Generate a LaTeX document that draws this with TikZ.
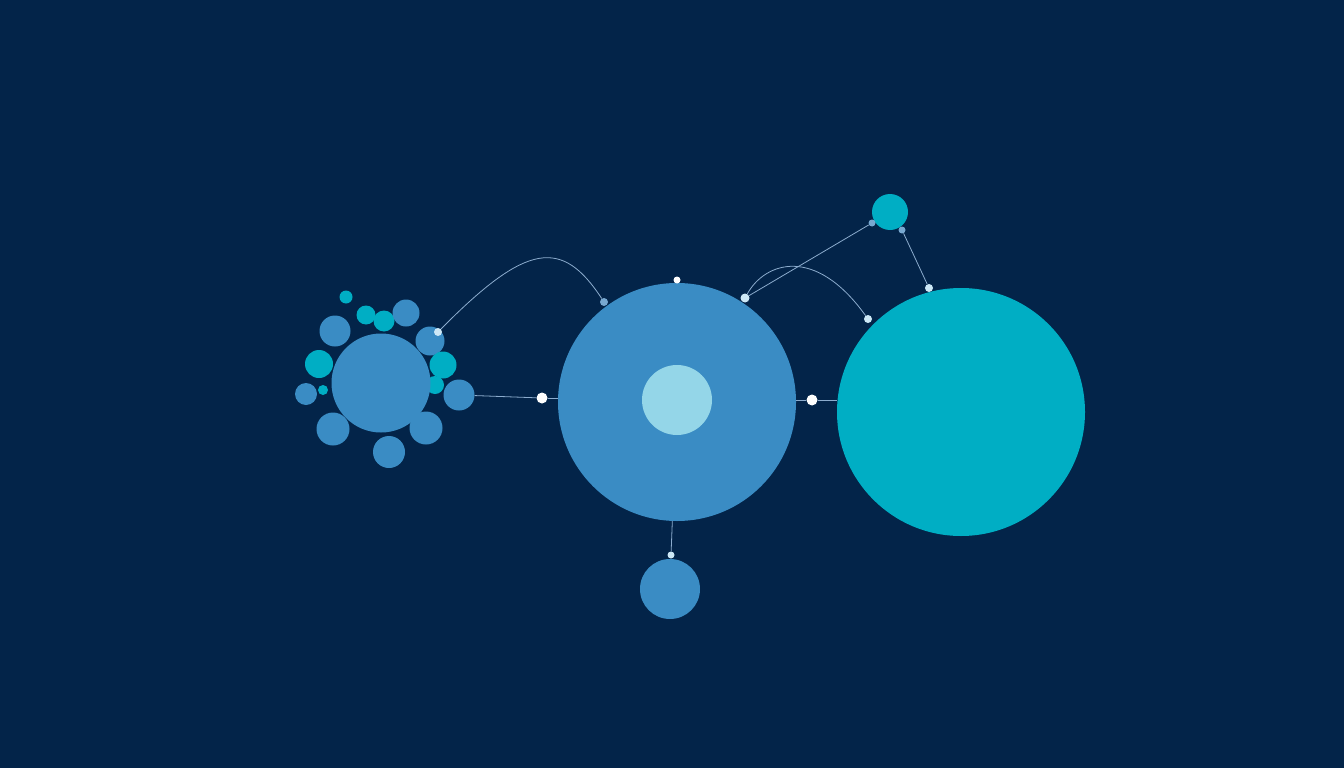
\documentclass[tikz,border=0pt]{standalone}
\usepackage{tikz}
\usetikzlibrary{positioning}

\definecolor{hintergrund}{RGB}{3,36,73}
\definecolor{blau}{RGB}{58,140,196}
\definecolor{tuerkis}{RGB}{0,174,196}
\definecolor{hellblau}{RGB}{148,214,232}
\definecolor{liniefarbe}{RGB}{140,172,206}
\definecolor{punkthell}{RGB}{205,232,246}
\definecolor{punktmatt}{RGB}{120,168,208}

\tikzset{
  kreis/.style={circle, inner sep=0pt, draw=none},
  punkt/.style={circle, inner sep=0pt, minimum size=#1},
  punkt/.default=7pt,
  linie/.style={liniefarbe, line width=0.8pt}
}

\begin{document}
\begin{tikzpicture}[x=1pt,y=-1pt]
\fill[hintergrund] (0,0) rectangle (1344,768);
\useasboundingbox (0,0) rectangle (1344,768);

% Satelliten um den linken Kreis
\foreach \n/\x/\y/\dm/\farbe in {1/346/297/13/tuerkis, 2/335/331/31/blau, 3/366/315/19/tuerkis,
  4/384/321/21/tuerkis, 5/406/313/27/blau, 6/430/341/29/blau, 7/319/364/28/tuerkis,
  8/443/365/27/tuerkis, 9/435/385/18/tuerkis, 10/306/394/22/blau, 11/323/390/10/tuerkis,
  12/459/395/31/blau, 13/333/429/33/blau, 14/426/428/33/blau, 15/389/452/32/blau}
  \node[kreis, fill=\farbe, minimum size=\dm pt] (s\n) at (\x,\y) {};

% Grosse Kreise
\node[kreis, fill=blau, minimum size=99pt] (links) at (381,383) {};
\node[kreis, fill=blau, minimum size=238pt] (mitte) at (677,402) {};
\node[kreis, fill=hellblau, minimum size=70pt] (kern) at (677,400) {};
\node[kreis, fill=tuerkis, minimum size=248pt] (rechts) at (961,412) {};
\node[kreis, fill=tuerkis, minimum size=36pt] (oben) at (890,212) {};
\node[kreis, fill=blau, minimum size=60pt] (unten) at (670,589) {};

% Punkte
\node[punkt=8pt, fill=punkthell] (pa) at (438,332) {};
\node[punkt=11pt, fill=white] (pb) at (542,398) {};
\node[punkt=8pt, fill=punktmatt] (pc) at (604,302) {};
\node[punkt=7pt, fill=white] (pd) at (677,280) {};
\node[punkt=9pt, fill=punkthell] (pe) at (745,298) {};
\node[punkt=11pt, fill=white] (pf) at (812,400) {};
\node[punkt=7pt, fill=punktmatt] (pg) at (872,223) {};
\node[punkt=7pt, fill=punktmatt] (ph) at (902,230) {};
\node[punkt=8pt, fill=punkthell] (pi) at (868,319) {};
\node[punkt=8pt, fill=punkthell] (pj) at (929,288) {};
\node[punkt=7pt, fill=punkthell] (pk) at (671,555) {};

% Verbindungen
\draw[linie] (pa) .. controls (527,242) and (562,238) .. (pc);
\draw[linie] (pe) .. controls (765,262) and (815,245) .. (pi);
\draw[linie] (pe) -- (pg);
\draw[linie] (ph) -- (pj);
\draw[linie] (s12) -- (pb);
\draw[linie] (pb) -- (pb -| mitte.west);
\draw[linie] (pf -| mitte.east) -- (pf);
\draw[linie] (pf) -- (pf -| rechts.west);
\draw[linie] (mitte) -- (pk);
\end{tikzpicture}
\end{document}
